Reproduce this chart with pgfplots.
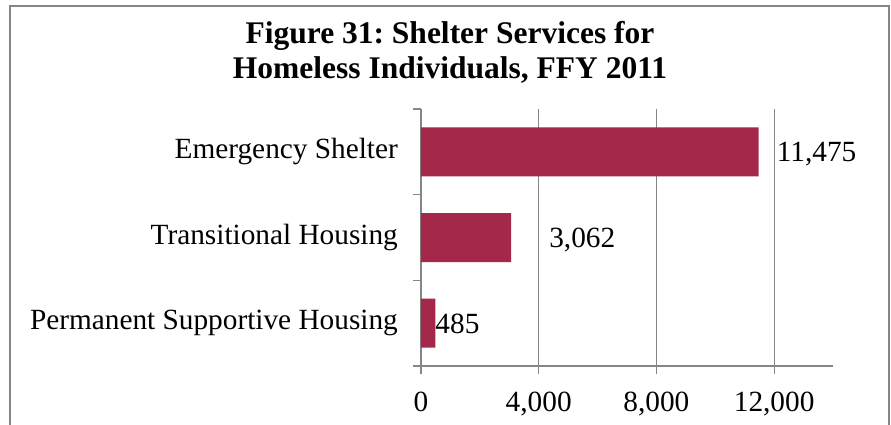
\documentclass[border=0pt]{standalone}
\usepackage{pgfplots}
\pgfplotsset{compat=1.18}
\usepackage{fontspec}
\setmainfont{Liberation Serif}
\definecolor{barc}{RGB}{164,40,74}
\definecolor{axc}{RGB}{134,134,134}
\newcommand{\lblfont}{\fontsize{29.3}{34}\selectfont}
\frenchspacing
\begin{document}
\begin{tikzpicture}[x=1pt,y=1pt]
\useasboundingbox (-421,-58) rectangle (470,366);
\clip (-421,-58) rectangle (470,366);
\fill[white] (-421,-58) rectangle (470,366);
\draw[axc, line width=2pt] (-411,-80) -- (-411,360) -- (468,360) -- (468,-80);
\node[anchor=base, font=\bfseries\fontsize{31.5}{35}\selectfont] at (29,323) {Figure 31: Shelter Services for};
\node[anchor=base, font=\bfseries\fontsize{31.5}{35}\selectfont] at (29,288) {Homeless Individuals, FFY 2011};
\begin{axis}[at={(0,0)}, anchor=south west, scale only axis,
  width=412pt, height=257pt,
  xmin=0, xmax=14000, ymin=-0.5, ymax=2.5,
  clip=false,
  axis lines*=left,
  axis line style={axc, line width=1.2pt},
  xtick={0,4000,8000,12000},
  ytick={0,1,2},
  yticklabels={Permanent Supportive Housing, Transitional Housing, Emergency Shelter},
  minor ytick={-0.5,0.5,1.5,2.5},
  tick align=outside,
  major tick length=8pt, minor tick length=8pt,
  major x tick style={axc, line width=1.2pt},
  major y tick style={draw=none},
  minor y tick style={axc, line width=1.2pt},
  xmajorgrids,
  major x grid style={axc, line width=1.2pt},
  ticklabel style={font=\lblfont},
  xticklabel style={yshift=-14.5pt},
  yticklabel style={xshift=-11.6pt},
  /pgf/number format/assume math mode=true,
  /pgf/number format/1000 sep={,},
  scaled x ticks=false,
]
\addplot[xbar, fill=barc, draw=none, bar width=49pt] coordinates {(485,0) (3062,1) (11475,2)};
\node[anchor=base west, inner sep=0pt, font=\lblfont, xshift=18pt, yshift=-9.9pt] at (axis cs:11475,2) {11,475};
\node[anchor=base west, inner sep=0pt, font=\lblfont, xshift=38pt, yshift=-9.9pt] at (axis cs:3062,1) {3,062};
\node[anchor=base west, inner sep=0pt, font=\lblfont, xshift=0pt, yshift=-9.9pt] at (axis cs:485,0) {485};
\end{axis}
\end{tikzpicture}
\end{document}
